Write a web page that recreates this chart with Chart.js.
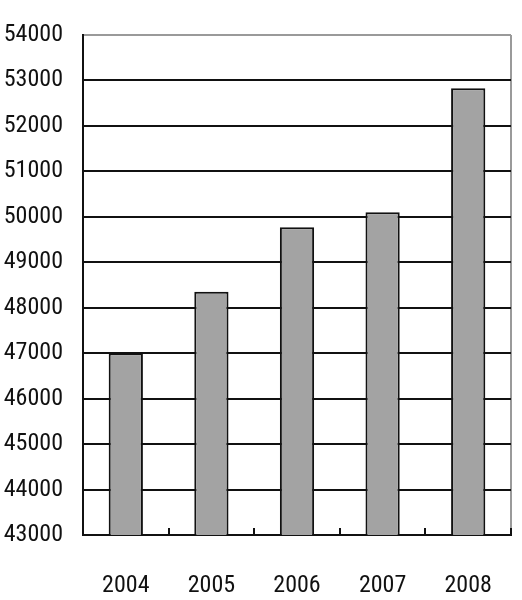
<!DOCTYPE html>
<html>
<head>
<meta charset="utf-8">
<script src="https://cdn.jsdelivr.net/npm/chart.js@4/dist/chart.umd.min.js"></script>
<style>
  html, body { margin: 0; padding: 0; background: #fff; }
  #wrap { width: 522px; height: 600px; }
</style>
</head>
<body>
<div id="wrap"><canvas id="chart" width="522" height="600"></canvas></div>
<script>
const years = ["2004", "2005", "2006", "2007", "2008"];
const values = [47000, 48350, 49770, 50100, 52830];
const yMin = 43000;
const yMax = 54000;
const yStep = 1000;

Chart.defaults.font.family = "'Roboto Condensed', sans-serif";
Chart.defaults.font.size = 24;
Chart.defaults.color = "#111";

new Chart("chart", {
  type: "bar",
  data: {
    labels: years,
    datasets: [{
      data: values,
      backgroundColor: "#a3a3a3",
      borderColor: "#111",
      borderWidth: 2,
      borderSkipped: false,
      barPercentage: 0.4,
      categoryPercentage: 1
    }]
  },
  options: {
    responsive: false,
    animation: false,
    events: [],
    layout: { padding: { left: 0, right: 11, top: 35, bottom: 0 } },
    plugins: { legend: { display: false }, tooltip: { enabled: false } },
    scales: {
      x: {
        grid: {
          offset: true,
          drawOnChartArea: true,
          color: ctx => (ctx.tick ? "rgba(0,0,0,0)" : "#9a9a9a"),
          tickColor: "#111",
          tickLength: -7,
          lineWidth: 2
        },
        border: { color: "#111", width: 2 },
        ticks: { padding: 44, maxRotation: 0 },
        afterFit: scale => {
          scale.height = 65;
          scale.paddingLeft = 0;
          scale.paddingRight = 0;
        }
      },
      y: {
        min: yMin,
        max: yMax,
        grid: {
          color: ctx => (ctx.tick && ctx.tick.value === yMax ? "#9a9a9a" : "#111"),
          lineWidth: 2,
          drawTicks: false
        },
        border: { color: "#111", width: 2 },
        ticks: { stepSize: yStep, padding: 20, callback: v => String(v) },
        afterFit: scale => { scale.width = 83; }
      }
    }
  }
});
</script>
</body>
</html>
